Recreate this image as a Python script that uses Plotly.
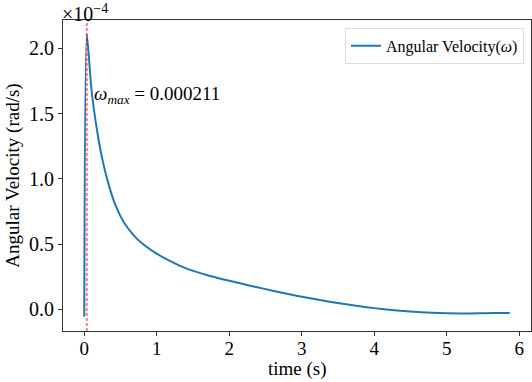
import plotly.graph_objects as go

# Data (time in s, angular velocity in rad/s)
time_s = [0, 0.035, 0.1, 0.18, 0.25, 0.33, 0.43, 0.55, 0.68, 0.8, 0.95,
          1.14, 1.3, 1.46, 1.7, 1.91, 2.15, 2.37, 2.6, 2.83, 3.06, 3.29, 3.52,
          3.75, 4.0, 4.2, 4.5, 4.8, 5.0, 5.2, 5.44, 5.65, 5.87]
ang_vel = [-0.057e-4, 2.11e-4, 1.68e-4, 1.36e-4, 1.15e-4, 0.97e-4, 0.80e-4,
           0.665e-4, 0.57e-4, 0.505e-4, 0.445e-4, 0.383e-4, 0.34e-4, 0.303e-4,
           0.262e-4, 0.232e-4, 0.20e-4, 0.172e-4, 0.143e-4, 0.116e-4, 0.091e-4,
           0.068e-4, 0.047e-4, 0.028e-4, 0.01e-4, -0.002e-4, -0.016e-4, -0.026e-4,
           -0.030e-4, -0.031e-4, -0.030e-4, -0.028e-4, -0.027e-4]
t_max = 0.035
w_max = 0.000211

x_ticks = [0, 1, 2, 3, 4, 5, 6]
y_tickvals = [0.0, 0.5e-4, 1.0e-4, 1.5e-4, 2.0e-4]
y_ticktext = ["0.0", "0.5", "1.0", "1.5", "2.0"]

FONT = "Liberation Serif"
AX = "#333333"

fig = go.Figure()
fig.add_trace(go.Scatter(
    x=time_s, y=ang_vel, mode="lines", name="Angular Velocity(<i>ω</i>)",
    line=dict(color="#1f77b4", width=2, shape="spline", smoothing=0.7),
))

fig.add_shape(type="line", xref="x", yref="paper", x0=t_max, x1=t_max, y0=0, y1=1,
              line=dict(color="rgba(255,0,0,0.5)", width=2, dash="3px,2px"))

fig.add_annotation(x=0.11, y=1.64e-4, xref="x", yref="y", xanchor="left", yanchor="middle",
                   text="<i>ω</i><sub><i>max</i></sub> = %.6f" % w_max, showarrow=False,
                   font=dict(family=FONT, size=19, color="#000"))

fig.add_annotation(x=0, y=1.0, xref="paper", yref="paper", xanchor="left", yanchor="bottom",
                   text="×10<sup>−4</sup>", showarrow=False, yshift=-7, xshift=-3,
                   font=dict(family=FONT, size=20, color="#000"))

# x-axis title placed as an annotation below the tick labels
fig.add_annotation(x=0.5, y=0, xref="paper", yref="paper", xanchor="center", yanchor="middle",
                   text="time (s)", showarrow=False, yshift=-38,
                   font=dict(family=FONT, size=19, color="#000"))

xr = max(time_s) - min(time_s)
yr = max(ang_vel) - min(ang_vel)

fig.update_layout(
    width=532, height=382,
    margin=dict(l=63, r=1, t=20, b=51),
    paper_bgcolor="white", plot_bgcolor="white",
    font=dict(family=FONT, size=18, color="#000"),
    showlegend=True,
    legend=dict(x=0.985, y=0.975, xanchor="right", yanchor="top",
                bgcolor="rgba(255,255,255,0.8)", bordercolor="#dddddd", borderwidth=1,
                font=dict(family=FONT, size=16, color="#000")),
    xaxis=dict(range=[min(time_s) - 0.05 * xr, max(time_s) + 0.05 * xr],
               tickvals=x_ticks, ticktext=[str(v) for v in x_ticks],
               showline=True, linecolor=AX, linewidth=1.2, mirror=True,
               ticks="outside", ticklen=4, tickcolor=AX, showgrid=False, zeroline=False,
               ticklabelstandoff=-4,
               tickfont=dict(family=FONT, size=19)),
    yaxis=dict(range=[min(ang_vel) - 0.05 * yr, max(ang_vel) + 0.05 * yr],
               tickvals=y_tickvals, ticktext=y_ticktext,
               showline=True, linecolor=AX, linewidth=1.2, mirror=True,
               ticks="outside", ticklen=4, tickcolor=AX, showgrid=False, zeroline=False,
               title=dict(text="Angular Velocity (rad/s)", standoff=4, font=dict(family=FONT, size=19)),
               tickfont=dict(family=FONT, size=20)),
)

fig.write_html("out.html")
